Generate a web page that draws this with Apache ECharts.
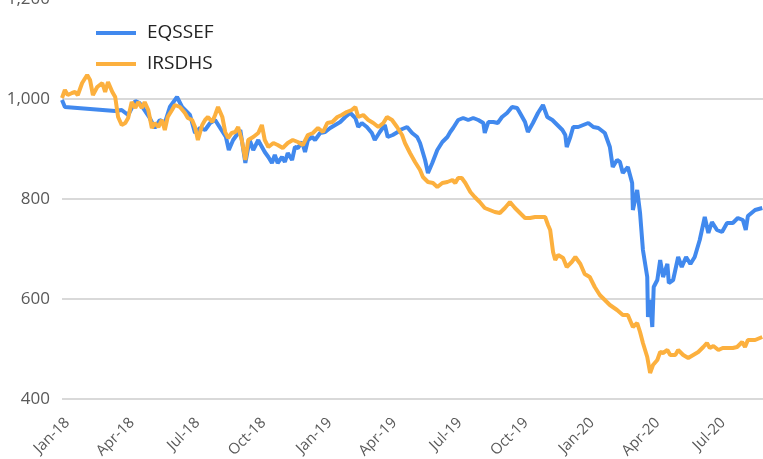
<!DOCTYPE html>
<html>
<head>
<meta charset="utf-8">
<script src="https://cdn.jsdelivr.net/npm/echarts@6/dist/echarts.min.js"></script>
<style>
  html, body { margin: 0; padding: 0; background: #fff; }
  #chart { width: 763px; height: 459px; }
</style>
</head>
<body>
<div id="chart"></div>
<script>
// quarter ticks on the x axis
var tickDates = ['2018-01-01', '2018-04-01', '2018-07-01', '2018-10-01', '2019-01-01', '2019-04-01',
                 '2019-07-01', '2019-10-01', '2020-01-01', '2020-04-01', '2020-07-01'];
var tickLabels = ['Jan-18', 'Apr-18', 'Jul-18', 'Oct-18', 'Jan-19', 'Apr-19',
                  'Jul-19', 'Oct-19', 'Jan-20', 'Apr-20', 'Jul-20'];

// days since 1 Jan 2018 and index level
var eqDays = [0, 4, 74, 83, 92, 102, 108, 122, 129, 136, 143, 150, 160, 167, 178, 185, 192, 199, 206, 213,
  220, 228, 232, 238, 248, 255, 261, 266, 273, 275, 282, 287, 292, 296, 300, 306, 310, 314, 320, 324,
  328, 334, 338, 342, 348, 352, 359, 366, 373, 380, 387, 394, 401, 408, 412, 417, 424, 431, 435, 442,
  449, 453, 460, 467, 470, 480, 487, 494, 498, 505, 509, 515, 522, 529, 536, 540, 544, 551, 558, 565,
  572, 579, 586, 588, 593, 600, 606, 612, 619, 626, 633, 637, 644, 648, 655, 662, 669, 675, 682, 689,
  696, 700, 702, 707, 711, 718, 725, 732, 739, 746, 755, 762, 766, 772, 776, 780, 787, 793, 794, 800,
  804, 808, 814, 815, 818, 821, 823, 828, 832, 836, 842, 844, 850, 857, 862, 868, 874, 880, 887, 894,
  899, 904, 911, 918, 925, 933, 940, 947, 951, 954, 964, 974];
var eqValues = [998, 984, 976, 978, 968, 996, 992, 962, 942, 958, 952, 984, 1004, 984, 968, 932, 942, 938, 952, 958,
  942, 924, 898, 918, 938, 872, 918, 898, 918, 912, 894, 884, 872, 888, 872, 884, 874, 892, 878, 904,
  902, 914, 894, 918, 924, 918, 932, 934, 942, 948, 954, 964, 972, 962, 944, 952, 944, 932, 918, 934,
  948, 924, 928, 934, 938, 944, 932, 924, 912, 878, 852, 872, 898, 914, 924, 934, 942, 958, 962, 958,
  962, 958, 952, 932, 954, 954, 952, 964, 972, 984, 982, 972, 954, 934, 952, 972, 988, 964, 958, 948,
  938, 928, 904, 924, 944, 944, 948, 952, 944, 942, 932, 904, 864, 878, 874, 852, 864, 832, 778, 818,
  772, 698, 644, 564, 598, 544, 624, 638, 678, 644, 670, 632, 638, 684, 664, 684, 670, 684, 718, 764,
  732, 754, 738, 734, 752, 752, 762, 758, 738, 766, 778, 782];

var irDays = [0, 4, 8, 14, 18, 22, 28, 35, 39, 43, 49, 56, 60, 64, 70, 74, 78, 83, 88, 92,
  97, 102, 106, 111, 115, 120, 125, 129, 134, 139, 143, 147, 153, 157, 164, 171, 175, 181, 185, 189,
  195, 199, 203, 209, 213, 217, 223, 227, 231, 236, 241, 245, 250, 255, 259, 266, 273, 278, 282, 287,
  294, 300, 307, 314, 321, 328, 335, 342, 349, 356, 363, 369, 376, 383, 389, 396, 403, 408, 412, 419,
  426, 433, 440, 447, 452, 459, 466, 473, 477, 484, 491, 498, 502, 509, 516, 522, 529, 536, 543, 547,
  551, 556, 561, 568, 574, 581, 588, 595, 602, 609, 616, 623, 630, 637, 644, 651, 658, 665, 672, 676,
  679, 683, 686, 690, 697, 702, 709, 714, 721, 727, 734, 741, 748, 755, 762, 772, 780, 787, 794, 800,
  804, 808, 814, 818, 822, 828, 832, 836, 842, 846, 853, 857, 864, 871, 878, 885, 892, 897, 901, 906,
  913, 919, 926, 933, 939, 946, 950, 954, 964, 974];
var irValues = [1002, 1018, 1008, 1012, 1014, 1008, 1032, 1048, 1038, 1008, 1024, 1032, 1014, 1034, 1014, 1004, 964, 948, 952, 962,
  994, 982, 994, 982, 994, 978, 942, 952, 944, 958, 938, 964, 978, 988, 984, 972, 962, 958, 944, 918,
  948, 958, 964, 954, 968, 984, 964, 934, 922, 932, 934, 944, 918, 878, 918, 924, 932, 948, 918, 904,
  912, 908, 902, 912, 918, 914, 908, 928, 932, 942, 934, 952, 954, 964, 968, 974, 978, 984, 964, 968,
  958, 952, 944, 952, 964, 958, 944, 928, 912, 892, 874, 858, 844, 834, 832, 824, 832, 834, 838, 832,
  842, 842, 832, 814, 804, 794, 782, 778, 774, 772, 782, 794, 782, 772, 762, 762, 764, 764, 764, 748,
  738, 694, 678, 688, 682, 664, 674, 684, 670, 650, 644, 624, 608, 598, 588, 578, 568, 568, 544, 552,
  534, 512, 484, 452, 468, 478, 494, 492, 498, 488, 488, 498, 488, 482, 488, 494, 504, 512, 502, 506,
  498, 502, 502, 502, 504, 514, 504, 518, 518, 524];

var DAY = 86400000;
var T0 = Date.UTC(2018, 0, 1);

function toPairs(days, values) {
    var out = [];
    for (var i = 0; i < days.length; i++) {
        out.push([days[i], values[i]]);
    }
    return out;
}
function dayOf(s) {
    var p = s.split('-');
    return Math.round((Date.UTC(+p[0], +p[1] - 1, +p[2]) - T0) / DAY);
}
var tickDays = tickDates.map(dayOf);

var dom = document.getElementById('chart');
var myChart = echarts.init(dom, null, {renderer: 'canvas'});

var option = {
    backgroundColor: '#ffffff',
    animation: false,
    textStyle: {fontFamily: 'Open Sans'},
    legend: {
        orient: 'vertical',
        left: 96,
        top: 22,
        padding: 0,
        itemGap: 9,
        itemWidth: 40,
        itemHeight: 4,
        icon: 'rect',
        data: ['EQSSEF', 'IRSDHS'],
        textStyle: {fontSize: 19, color: '#222222', lineHeight: 22, padding: [0, 0, 0, 6]}
    },
    grid: {left: 62, right: 0, top: -1, bottom: 60, containLabel: false, outerBoundsMode: 'none'},
    xAxis: {
        type: 'value',
        min: 0,
        max: 975,
        axisLine: {show: false},
        axisTick: {show: false},
        splitLine: {show: false},
        axisLabel: {
            customValues: tickDays,
            rotate: 45,
            margin: 16,
            verticalAlign: 'top',
            fontSize: 15,
            color: '#595959',
            formatter: function (val) {
                var i = tickDays.indexOf(Math.round(val));
                return i >= 0 ? tickLabels[i] : '';
            }
        }
    },
    yAxis: {
        type: 'value',
        min: 400,
        max: 1200,
        interval: 200,
        axisLine: {show: false},
        axisTick: {show: false},
        splitLine: {lineStyle: {color: '#d9d9d9', width: 2}},
        axisLabel: {
            fontSize: 17,
            color: '#595959',
            margin: 12,
            formatter: function (v) { return v >= 1000 ? Math.floor(v / 1000) + ',' + String(v % 1000).padStart(3, '0') : String(v); }
        }
    },
    series: [
        {name: 'EQSSEF', type: 'line', showSymbol: false, symbol: 'none',
         lineStyle: {width: 4, color: '#4189ee'}, itemStyle: {color: '#4189ee'},
         data: toPairs(eqDays, eqValues)},
        {name: 'IRSDHS', type: 'line', showSymbol: false, symbol: 'none',
         lineStyle: {width: 4, color: '#fcb03e'}, itemStyle: {color: '#fcb03e'},
         data: toPairs(irDays, irValues)}
    ]
};

if (option && typeof option === 'object') {
    myChart.setOption(option, true);
}
</script>
</body>
</html>
